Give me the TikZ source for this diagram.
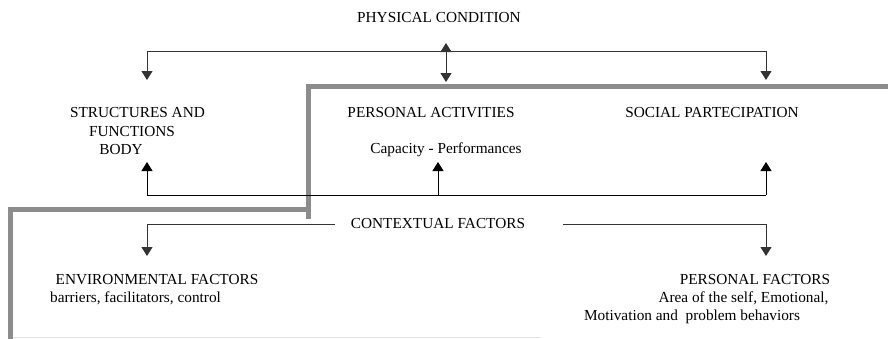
\documentclass[tikz,border=0pt]{standalone}
\usepackage{fontspec}
\setmainfont{Liberation Serif}
\usetikzlibrary{arrows.meta}
\begin{document}
\begin{tikzpicture}[x=1pt,y=-1pt,
  lbl/.style={inner sep=0pt,font=\fontsize{15.3}{18}\selectfont},
  conn/.style={line width=1pt,draw=black!80},
  arr/.style={conn,-{Triangle[width=11pt,length=9pt]}},
  darr/.style={conn,{Triangle[width=11pt,length=9pt]}-{Triangle[width=11pt,length=9pt]}},
  border/.style={line width=4.5pt,draw=black!45}]
\useasboundingbox (0,0) rectangle (888,338);
% texts
\node[lbl] (pc) at (439,18) {PHYSICAL CONDITION};
\node[lbl] (sb1) at (137.5,113) {STRUCTURES AND};
\node[lbl] (sb2) at (132,132) {FUNCTIONS};
\node[lbl] (sb3) at (121,150) {BODY};
\node[lbl] (pa) at (431,113) {PERSONAL ACTIVITIES};
\node[lbl] (cp) at (446,150) {Capacity - Performances};
\node[lbl] (sp) at (712,113) {SOCIAL PARTECIPATION};
\node[lbl] (cf) at (438,224) {CONTEXTUAL FACTORS};
\node[lbl] (ef1) at (157,280) {ENVIRONMENTAL FACTORS};
\node[lbl] (ef2) at (135.5,298) {barriers, facilitators, control};
\node[lbl] (pf1) at (755,280) {PERSONAL FACTORS};
\node[lbl] (pf2) at (743.5,298) {Area of the self, Emotional,};
\node[lbl] (pf3) at (692,317) {Motivation and\ \ problem behaviors};
% coordinates
\coordinate (tlt) at (147,51);
\coordinate (trt) at (766,51);
\coordinate (tlTip) at (147,80);
\coordinate (trTip) at (766,80);
\coordinate (dUp) at (446,43);
\coordinate (dDn) at (446,82);
\coordinate (bl) at (147,195);
\coordinate (bm) at (438,195);
\coordinate (br) at (766,195);
\coordinate (blTip) at (147,162);
\coordinate (bmTip) at (438,162);
\coordinate (brTip) at (766,162);
\coordinate (cl) at (335,224);
\coordinate (cr) at (563,224);
\coordinate (clTip) at (147,256);
\coordinate (crTip) at (766,256);
% gray frame
\draw[border] (10.5,340) -- (10.5,209.5) -- (308.5,209.5);
\draw[border] (308.5,219) -- (308.5,86.5) -- (890,86.5);
\draw[line width=1pt,draw=black!12] (13,337) -- (540,337);
% connectors
\draw[arr] (tlt) -- (tlTip);
\draw[conn] (tlt) -- (trt);
\draw[arr] (trt) -- (trTip);
\draw[darr] (dUp) -- (dDn);
\draw[conn,draw=black] (bl) -- (br);
\draw[arr,draw=black] (bl) -- (blTip);
\draw[arr,draw=black] (bm) -- (bmTip);
\draw[arr,draw=black] (br) -- (brTip);
\draw[arr] (cl) -| (clTip);
\draw[arr] (cr) -| (crTip);
\end{tikzpicture}
\end{document}
